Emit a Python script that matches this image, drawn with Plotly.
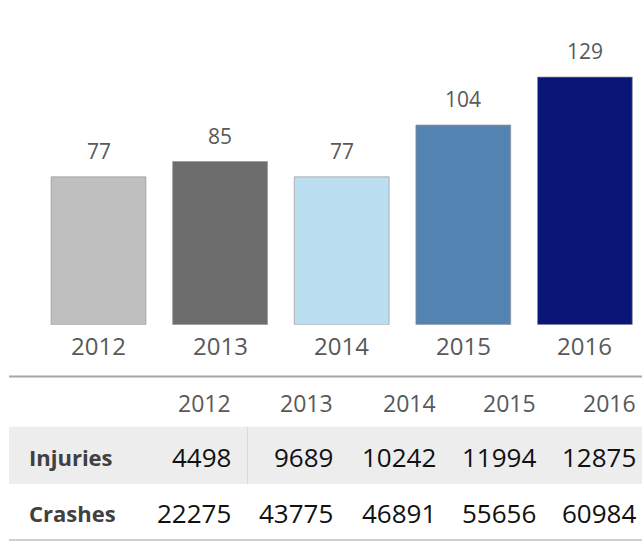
import plotly.graph_objects as go

# Fatalities per year (bars) and the supporting table
years = ["2012", "2013", "2014", "2015", "2016"]
fatalities = [77, 85, 77, 104, 129]
bar_colors = ["#bfbfbf", "#6d6d6d", "#bbdff0", "#5383b1", "#0a1578"]

row_labels = ["Injuries", "Crashes"]
injuries = [4498, 9689, 10242, 11994, 12875]
crashes = [22275, 43775, 46891, 55656, 60984]

W, H = 642, 541
FONT = "Open Sans"

fig = go.Figure()
fig.add_trace(go.Bar(
    x=years,
    y=fatalities,
    width=0.78,
    marker=dict(color=bar_colors, line=dict(color="rgba(150,150,150,0.7)", width=1)),
    hoverinfo="skip",
))

annotations = []
# value labels above the bars, category labels under them
for i, (yr, v) in enumerate(zip(years, fatalities)):
    annotations.append(dict(
        x=i, y=v, xref="x", yref="y", text=str(v), showarrow=False,
        yanchor="middle", yshift=26,
        font=dict(family=FONT, size=21, color="#595959"),
    ))
    annotations.append(dict(
        x=i, y=0, xref="x", yref="y", text=yr, showarrow=False,
        yanchor="middle", yshift=-21,
        font=dict(family=FONT, size=24, color="#595959"),
    ))


def px_x(p):
    return p / W


def px_y(p):
    return 1 - p / H


# table: right edges of the value columns
col_right = [233, 335, 437.5, 537.5, 637.5]
header_y = 403
row_y = [457, 513]
row_vals = [injuries, crashes]

for yr, xr in zip(years, col_right):
    annotations.append(dict(
        x=px_x(xr), y=px_y(header_y), xref="paper", yref="paper", text=yr,
        showarrow=False, xanchor="right", yanchor="middle",
        font=dict(family=FONT, size=23, color="#595959"),
    ))

for label, yc, vals in zip(row_labels, row_y, row_vals):
    annotations.append(dict(
        x=px_x(27), y=px_y(yc), xref="paper", yref="paper", text="<b>%s</b>" % label,
        showarrow=False, xanchor="left", yanchor="middle",
        font=dict(family=FONT, size=22, color="#404040"),
    ))
    for v, xr in zip(vals, col_right):
        annotations.append(dict(
            x=px_x(xr), y=px_y(yc), xref="paper", yref="paper", text=str(v),
            showarrow=False, xanchor="right", yanchor="middle",
            font=dict(family=FONT, size=26, color="#111111"),
        ))

shapes = [
    # shaded Injuries row
    dict(type="rect", xref="paper", yref="paper", x0=px_x(9), x1=1, y0=px_y(484), y1=px_y(426.7),
         fillcolor="#ededed", line=dict(width=0), layer="below"),
    # faint cell separator in the shaded row
    dict(type="line", xref="paper", yref="paper", x0=px_x(247.5), x1=px_x(247.5),
         y0=px_y(484), y1=px_y(426.7), line=dict(color="#dadada", width=1)),
    # top and bottom rules
    dict(type="line", xref="paper", yref="paper", x0=px_x(9), x1=1, y0=px_y(376.5), y1=px_y(376.5),
         line=dict(color="#a6a6a6", width=2)),
    dict(type="line", xref="paper", yref="paper", x0=px_x(9), x1=1, y0=px_y(540), y1=px_y(540),
         line=dict(color="#bfbfbf", width=1.5)),
]

# bar area: zero line at 324.7 px from the top, ~1.92 px per unit
zero_px = 324.7
ppu = 1.92
first_center, step = 98.5, 121.6

fig.update_layout(
    width=W, height=H,
    margin=dict(l=0, r=0, t=0, b=0),
    paper_bgcolor="white", plot_bgcolor="white",
    showlegend=False,
    xaxis=dict(type="category", domain=[0, 1],
               range=[-first_center / step, (W - first_center) / step],
               showticklabels=False, showgrid=False, zeroline=False, showline=False,
               fixedrange=True),
    yaxis=dict(domain=[1 - zero_px / H, 1], range=[0, zero_px / ppu],
               showticklabels=False, showgrid=False, zeroline=False, showline=False,
               fixedrange=True),
    annotations=annotations,
    shapes=shapes,
)

fig.write_html("out.html")
